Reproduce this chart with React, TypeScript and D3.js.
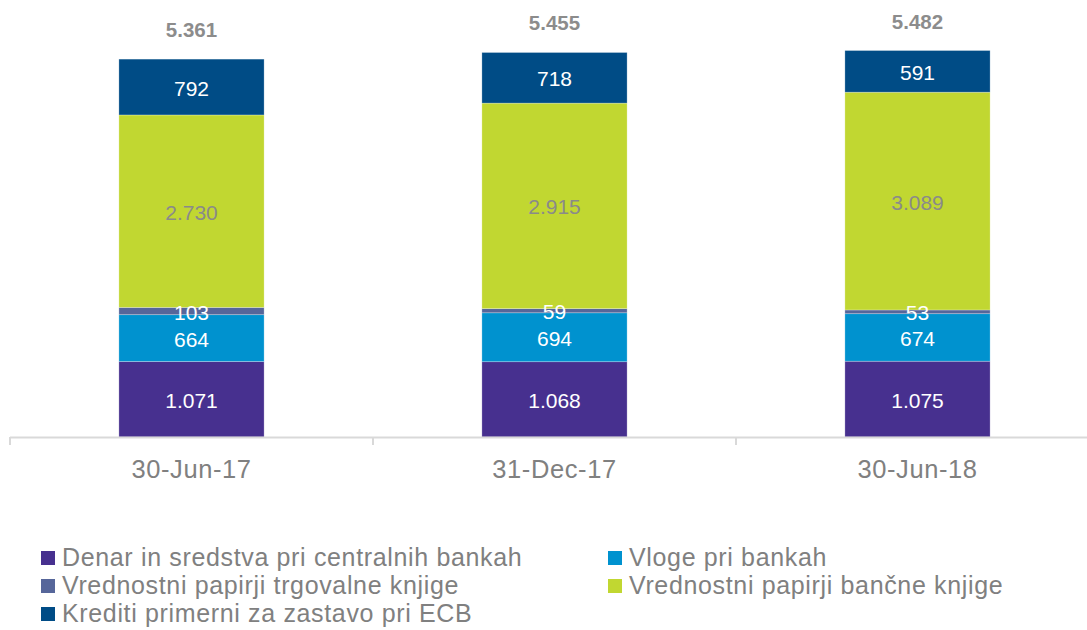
import React from "react";
import * as d3 from "d3";

const categories = ["30-Jun-17", "31-Dec-17", "30-Jun-18"];
const seriesNames = [
  "Denar in sredstva pri centralnih bankah",
  "Vloge pri bankah",
  "Vrednostni papirji trgovalne knjige",
  "Vrednostni papirji bančne knjige",
  "Krediti primerni za zastavo pri ECB",
];
const denar = [1071, 1068, 1075];
const vloge = [664, 694, 674];
const trgovalne = [103, 59, 53];
const bancne = [2730, 2915, 3089];
const krediti = [792, 718, 591];
const totals = [5361, 5455, 5482];

const colors = ["#47308F", "#0092CF", "#56669A", "#C1D731", "#004C86"];
const labelColors = ["#fff", "#fff", "#fff", "#8A8A8A", "#fff"];

const fmt = (v: number) => {
  const s = String(v);
  return s.length > 3 ? s.slice(0, s.length - 3) + "." + s.slice(-3) : s;
};

export default function App() {
  const W = 1087;
  const H = 630;
  const seriesValues = [denar, vloge, trgovalne, bancne, krediti];
  const data = categories.map((c, i) => {
    const row: any = { cat: c };
    seriesNames.forEach((s, j) => (row[s] = seriesValues[j][i]));
    return row;
  });
  const stacked = d3.stack<any>().keys(seriesNames)(data);

  const x = d3.scaleBand<string>().domain(categories).range([10, 1099]).padding(0);
  const barW = x.bandwidth() * 0.4;
  const y = d3.scaleLinear().domain([0, 5500]).range([437, 437 - 5500 * 0.0705]);

  const font = "Liberation Sans, Arial, sans-serif";
  const legendPos = [
    [41, 551],
    [608, 551],
    [41, 579],
    [608, 579],
    [41, 607],
  ];

  return (
    <svg
      width={W}
      height={H}
      style={{ position: "absolute", left: 0, top: 0, display: "block" }}
      fontFamily={font}
    >
      <rect width={W} height={H} fill="#fff" />
      {stacked.map((layer, j) => (
        <g key={layer.key}>
          {layer.map((d, i) => {
            const cx = x(categories[i])! + x.bandwidth() / 2;
            const y0 = y(d[0]);
            const y1 = y(d[1]);
            return (
              <rect
                key={i}
                x={cx - barW / 2}
                y={y1}
                width={barW}
                height={y0 - y1}
                fill={colors[j]}
                stroke="#ffffff"
                strokeOpacity={0.35}
                strokeWidth={0.75}
              />
            );
          })}
        </g>
      ))}
      {stacked.map((layer, j) => (
        <g key={"l" + layer.key}>
          {layer.map((d, i) => {
            const cx = x(categories[i])! + x.bandwidth() / 2;
            const ym = (y(d[0]) + y(d[1])) / 2;
            return (
              <text
                key={i}
                x={cx}
                y={ym + 8.5}
                textAnchor="middle"
                fontSize={21}
                fill={labelColors[j]}
              >
                {fmt(seriesValues[j][i])}
              </text>
            );
          })}
        </g>
      ))}
      {totals.map((t, i) => (
        <text
          key={"t" + i}
          x={x(categories[i])! + x.bandwidth() / 2}
          y={y(t) - 22}
          textAnchor="middle"
          fontSize={20.5}
          fontWeight="bold"
          fill="#8C8C8C"
        >
          {fmt(t)}
        </text>
      ))}
      <line x1={10} x2={W} y1={437.5} y2={437.5} stroke="#D9D9D9" strokeWidth={2} />
      {[0, 1, 2, 3].map((k) => {
        const tx = 10 + k * x.step();
        return <line key={"tk" + k} x1={tx} x2={tx} y1={437} y2={445} stroke="#D9D9D9" strokeWidth={2} />;
      })}
      {categories.map((c) => (
        <text
          key={c}
          x={x(c)! + x.bandwidth() / 2}
          y={478}
          textAnchor="middle"
          fontSize={25.5}
          letterSpacing={0.6}
          fill="#808080"
        >
          {c}
        </text>
      ))}
      {seriesNames.map((s, j) => (
        <g key={"lg" + j} transform={`translate(${legendPos[j][0]},${legendPos[j][1]})`}>
          <rect x={0} y={0} width={14} height={14} fill={colors[j]} />
          <text x={21} y={15} fontSize={25} letterSpacing={0.65} fill="#808080">
            {s}
          </text>
        </g>
      ))}
    </svg>
  );
}
